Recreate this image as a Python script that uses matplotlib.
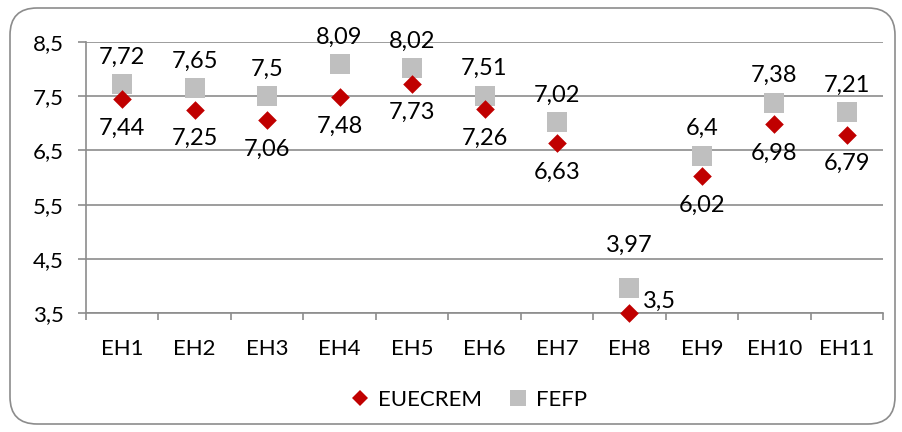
import matplotlib
matplotlib.use("Agg")
import matplotlib.pyplot as plt
from matplotlib.patches import FancyBboxPatch
from matplotlib.lines import Line2D

categories = ["EH1", "EH2", "EH3", "EH4", "EH5", "EH6", "EH7", "EH8", "EH9", "EH10", "EH11"]
euecrem = [7.44, 7.25, 7.06, 7.48, 7.73, 7.26, 6.63, 3.5, 6.02, 6.98, 6.79]
fefp = [7.72, 7.65, 7.5, 8.09, 8.02, 7.51, 7.02, 3.97, 6.4, 7.38, 7.21]
yticks = [3.5, 4.5, 5.5, 6.5, 7.5, 8.5]

plt.rcParams['font.family'] = ['Lato', 'DejaVu Sans']

W, H = 903, 432
fig = plt.figure(figsize=(W / 100, H / 100), dpi=100)

# rounded outer frame
frame = FancyBboxPatch((10 / W, 8 / H), 885 / W, 416 / H,
                       boxstyle="round,pad=0,rounding_size=0.03",
                       transform=fig.transFigure, facecolor="white",
                       edgecolor="#8c8c8c", linewidth=1.2, zorder=-10,
                       mutation_aspect=W / H)
fig.patches.append(frame)

left, right = 86, 883
top, bottom = 42, 313
ax = fig.add_axes([left / W, 1 - bottom / H, (right - left) / W, (bottom - top) / H])
ax.set_facecolor("none")
ax.set_zorder(5)

n = len(categories)
x = list(range(n))
ax.set_xlim(-0.5, n - 0.5)
ax.set_ylim(3.5, 8.5)

grid_c = "#8c8c8c"
for y in yticks:
    ax.axhline(y, color=grid_c, linewidth=1.2, zorder=1)
for s in ["top", "right"]:
    ax.spines[s].set_visible(False)
ax.spines["left"].set_color(grid_c)
ax.spines["bottom"].set_color(grid_c)
ax.spines["left"].set_linewidth(1.2)
ax.spines["bottom"].set_linewidth(1.2)

ax.set_yticks(yticks)
ax.set_yticklabels([f"{v:g}".replace(".", ",") for v in yticks], fontsize=16)
ax.set_xticks(x)
ax.set_xticklabels(categories, fontsize=16)
ax.set_xticks([i - 0.5 for i in range(n + 1)], minor=True)
ax.tick_params(axis="x", which="major", length=0, pad=19)
ax.tick_params(axis="x", which="minor", length=5, color=grid_c, width=1.2)
ax.tick_params(axis="y", length=6, color=grid_c, width=1.2, pad=10)

red = "#C00000"
gray = "#BFBFBF"
ax.scatter(x, fefp, marker="s", s=190, color=gray, zorder=3, linewidths=0, clip_on=False)
ax.scatter(x, euecrem, marker="D", s=90, color=red, zorder=4, linewidths=0, clip_on=False)

def fmt(v):
    return f"{v:g}".replace(".", ",")

for i, v in enumerate(fefp):
    dy = 42 if categories[i] == "EH8" else 27
    ax.annotate(fmt(v), (i, v), xytext=(0, dy), textcoords="offset pixels",
                ha="center", va="center", fontsize=17, zorder=5)
for i, v in enumerate(euecrem):
    if categories[i] == "EH8":
        ax.annotate(fmt(v), (i, v), xytext=(14, 12), textcoords="offset pixels",
                    ha="left", va="center", fontsize=17, zorder=5)
    else:
        ax.annotate(fmt(v), (i, v), xytext=(0, -29), textcoords="offset pixels",
                    ha="center", va="center", fontsize=17, zorder=5)

handles = [
    Line2D([], [], marker="D", linestyle="none", color=red, markersize=8, markeredgewidth=0),
    Line2D([], [], marker="s", linestyle="none", color=gray, markersize=12, markeredgewidth=0),
]
fig.legend(handles, ["EUECREM", "FEFP"], loc="center", bbox_to_anchor=(468 / W, 1 - 400 / H),
           ncol=2, frameon=False, fontsize=16, handletextpad=0.3, columnspacing=1.1,
           handlelength=1.0)

fig.savefig("out.png", dpi=100)
